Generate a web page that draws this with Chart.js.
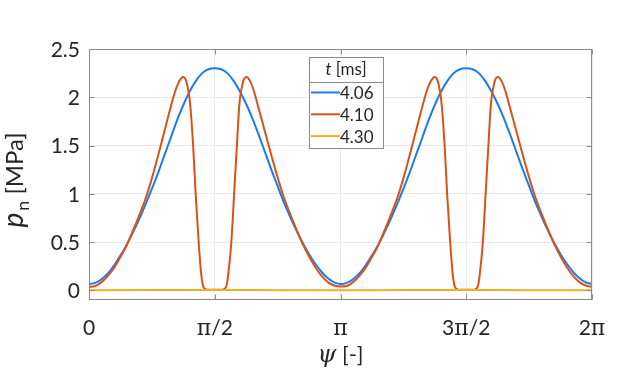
<!DOCTYPE html>
<html>
<head>
<meta charset="utf-8">
<script src="https://cdn.jsdelivr.net/npm/chart.js@4.4.1/dist/chart.umd.min.js"></script>
<style>
    html, body { margin: 0; padding: 0; background: #ffffff; }
    #wrap { width: 640px; height: 377px; }
</style>
</head>
<body>
<div id="wrap"><canvas id="pressureChart"></canvas></div>
<script>
// psi is given in units of pi (0 .. 2)
const xTicks = [0, 0.5, 1, 1.5, 2];
const xTickLabels = ['0', 'π/2', 'π', '3π/2', '2π'];
const yTicks = [0, 0.5, 1, 1.5, 2, 2.5];
const yTickLabels = ['0', '0.5', '1', '1.5', '2', '2.5'];
const seriesLabels = ['4.06', '4.10', '4.30'];

// t = 4.06 ms
const psiA = [0, 0.025, 0.05, 0.075, 0.10, 0.125, 0.15, 0.175, 0.20, 0.225, 0.25, 0.275, 0.30, 0.325, 0.35, 0.375, 0.40, 0.425, 0.45, 0.475,
    0.50, 0.525, 0.55, 0.575, 0.60, 0.625, 0.65, 0.675, 0.70, 0.725, 0.75, 0.775, 0.80, 0.825, 0.85, 0.875, 0.90, 0.925, 0.95, 0.975,
    1.00, 1.025, 1.05, 1.075, 1.10, 1.125, 1.15, 1.175, 1.20, 1.225, 1.25, 1.275, 1.30, 1.325, 1.35, 1.375, 1.40, 1.425, 1.45, 1.475,
    1.50, 1.525, 1.55, 1.575, 1.60, 1.625, 1.65, 1.675, 1.70, 1.725, 1.75, 1.775, 1.80, 1.825, 1.85, 1.875, 1.90, 1.925, 1.95, 1.975, 2.00];
const pA = [0.065, 0.078, 0.115, 0.175, 0.26, 0.36, 0.47, 0.60, 0.74, 0.89, 1.05, 1.22, 1.40, 1.58, 1.76, 1.92, 2.06, 2.17, 2.25, 2.29,
    2.30, 2.29, 2.25, 2.17, 2.06, 1.93, 1.78, 1.61, 1.43, 1.25, 1.08, 0.91, 0.76, 0.62, 0.49, 0.375, 0.275, 0.19, 0.125, 0.083,
    0.065, 0.078, 0.115, 0.175, 0.26, 0.36, 0.47, 0.60, 0.74, 0.89, 1.05, 1.22, 1.40, 1.58, 1.76, 1.92, 2.06, 2.17, 2.25, 2.29,
    2.30, 2.29, 2.25, 2.17, 2.06, 1.93, 1.78, 1.61, 1.43, 1.25, 1.08, 0.91, 0.76, 0.62, 0.49, 0.375, 0.275, 0.19, 0.125, 0.083, 0.065];

// t = 4.10 ms
const psiB = [0, 0.025, 0.05, 0.075, 0.10, 0.125, 0.15, 0.175, 0.20, 0.225, 0.25, 0.275, 0.30, 0.325, 0.345, 0.36, 0.374, 0.385, 0.395, 0.40,
    0.407, 0.414, 0.424, 0.436, 0.445, 0.453, 0.462, 0.475, 0.50, 0.525, 0.538, 0.547, 0.553, 0.566, 0.577, 0.588, 0.594, 0.60, 0.606,
    0.615, 0.626, 0.64, 0.655, 0.675, 0.70, 0.725, 0.75, 0.775, 0.80, 0.825, 0.85, 0.875, 0.90, 0.925, 0.95, 0.975,
    1.00, 1.025, 1.05, 1.075, 1.10, 1.125, 1.15, 1.175, 1.20, 1.225, 1.25, 1.275, 1.30, 1.325, 1.345, 1.36, 1.374, 1.385, 1.395, 1.40,
    1.407, 1.414, 1.424, 1.436, 1.445, 1.453, 1.462, 1.475, 1.50, 1.525, 1.538, 1.547, 1.553, 1.566, 1.577, 1.588, 1.594, 1.60, 1.606,
    1.615, 1.626, 1.64, 1.655, 1.675, 1.70, 1.725, 1.75, 1.775, 1.80, 1.825, 1.85, 1.875, 1.90, 1.925, 1.95, 1.975, 2.00];
const pB = [0.035, 0.045, 0.085, 0.15, 0.235, 0.345, 0.47, 0.62, 0.78, 0.95, 1.16, 1.40, 1.65, 1.90, 2.08, 2.17, 2.21, 2.18, 2.07, 1.98,
    1.78, 1.50, 1.00, 0.50, 0.20, 0.05, 0.015, 0.005, 0.005, 0.005, 0.015, 0.05, 0.15, 0.50, 1.00, 1.50, 1.78, 1.98, 2.08,
    2.18, 2.21, 2.17, 2.07, 1.88, 1.64, 1.40, 1.17, 0.96, 0.79, 0.63, 0.48, 0.35, 0.24, 0.15, 0.085, 0.05,
    0.04, 0.045, 0.085, 0.15, 0.235, 0.345, 0.47, 0.62, 0.78, 0.95, 1.16, 1.40, 1.65, 1.90, 2.08, 2.17, 2.21, 2.18, 2.07, 1.98,
    1.78, 1.50, 1.00, 0.50, 0.20, 0.05, 0.015, 0.005, 0.005, 0.005, 0.015, 0.05, 0.15, 0.50, 1.00, 1.50, 1.78, 1.98, 2.08,
    2.18, 2.21, 2.17, 2.07, 1.88, 1.64, 1.40, 1.17, 0.96, 0.79, 0.63, 0.48, 0.35, 0.24, 0.15, 0.085, 0.05, 0.035];

// t = 4.30 ms
const psiC = [0, 0.25, 0.5, 0.75, 1, 1.25, 1.5, 1.75, 2];
const pC = [0.002, 0.003, 0.004, 0.002, 0.001, 0.003, 0.004, 0.002, 0.002];

const colors = ['#1a7cf2', '#d95319', '#edb120'];
const textColor = '#262626';
const axisColor = '#8c8c8c';
const sans = 'Lato';

function toPoints(xs, ys) {
    return xs.map((x, i) => ({ x: x, y: ys[i] }));
}

// draw a string where the pi sign uses a serif face
function drawMixed(ctx, text, cx, baseY, size) {
    const parts = text.split(/(π)/).filter(s => s.length);
    const fonts = parts.map(s => s === 'π' ? (size + 1) + 'px "DejaVu Serif"' : size + 'px ' + sans);
    let total = 0;
    const widths = parts.map((s, i) => { ctx.font = fonts[i]; const w = ctx.measureText(s).width; total += w; return w; });
    let x = cx - total / 2;
    ctx.textAlign = 'left';
    ctx.textBaseline = 'alphabetic';
    parts.forEach((s, i) => { ctx.font = fonts[i]; ctx.fillText(s, x, baseY); x += widths[i]; });
}

const decorations = {
    id: 'decorations',
    afterDraw(chart) {
        const ctx = chart.ctx;
        const a = chart.chartArea;
        const xs = chart.scales.x, ys = chart.scales.y;
        const L = Math.round(a.left) + 0.5, R = Math.round(a.right) - 0.5;
        const T = Math.round(a.top) + 0.5, B = Math.round(a.bottom) - 0.5;
        ctx.save();

        // box and inward ticks
        ctx.strokeStyle = axisColor;
        ctx.lineWidth = 1;
        ctx.strokeRect(L, T, R - L, B - T);
        ctx.beginPath();
        xTicks.forEach(v => {
            const px = Math.round(xs.getPixelForValue(v)) + 0.5;
            ctx.moveTo(px, B); ctx.lineTo(px, B - 5);
            ctx.moveTo(px, T); ctx.lineTo(px, T + 5);
        });
        yTicks.forEach(v => {
            const py = Math.round(ys.getPixelForValue(v)) + 0.5;
            ctx.moveTo(L, py); ctx.lineTo(L + 5, py);
            ctx.moveTo(R, py); ctx.lineTo(R - 5, py);
        });
        ctx.stroke();

        // tick labels
        ctx.fillStyle = textColor;
        xTicks.forEach((v, i) => drawMixed(ctx, xTickLabels[i], xs.getPixelForValue(v), 335, 21));
        ctx.font = '21px ' + sans;
        ctx.textAlign = 'right';
        ctx.textBaseline = 'middle';
        yTicks.forEach((v, i) => ctx.fillText(yTickLabels[i], a.left - 9, ys.getPixelForValue(v) + 1));

        // x title: psi [-]
        ctx.textBaseline = 'alphabetic';
        ctx.textAlign = 'left';
        ctx.font = 'italic 24px "DejaVu Serif"';
        const wPsi = ctx.measureText('ψ').width;
        ctx.font = '22px ' + sans;
        const wRest = ctx.measureText(' [-]').width;
        let tx = (a.left + a.right) / 2 - (wPsi + wRest) / 2;
        ctx.font = 'italic 24px "DejaVu Serif"';
        ctx.fillText('ψ', tx, 362);
        ctx.font = '22px ' + sans;
        ctx.fillText(' [-]', tx + wPsi, 362);

        // y title: p_n [MPa], rotated
        ctx.save();
        ctx.translate(23, 0);
        ctx.rotate(-Math.PI / 2);
        ctx.font = 'italic 28px ' + sans;
        const wp = ctx.measureText('p').width;
        ctx.font = '18px ' + sans;
        const wn = ctx.measureText('n').width;
        ctx.font = '24px ' + sans;
        const wm = ctx.measureText(' [MPa]').width;
        let ty = -181 - (wp + wn + wm) / 2;
        ctx.font = 'italic 28px ' + sans;
        ctx.fillText('p', ty, 0);
        ctx.font = '18px ' + sans;
        ctx.fillText('n', ty + wp + 2, 6);
        ctx.font = '24px ' + sans;
        ctx.fillText(' [MPa]', ty + wp + wn + 2, 0);
        ctx.restore();

        // legend box with title
        const lx = 309, ly = 57, lw = 74, lh = 91;
        ctx.fillStyle = '#ffffff';
        ctx.fillRect(lx, ly, lw, lh);
        ctx.strokeStyle = axisColor;
        ctx.strokeRect(lx + 0.5, ly + 0.5, lw, lh);
        ctx.beginPath();
        ctx.moveTo(lx, ly + 25.5); ctx.lineTo(lx + lw, ly + 25.5);
        ctx.stroke();
        ctx.fillStyle = textColor;
        ctx.font = 'italic 17px ' + sans;
        const wt = ctx.measureText('t').width;
        ctx.font = '17px ' + sans;
        const wms = ctx.measureText(' [ms]').width;
        const t0 = lx + lw / 2 - (wt + wms) / 2;
        ctx.textBaseline = 'middle';
        ctx.font = 'italic 17px ' + sans;
        ctx.fillText('t', t0, ly + 13);
        ctx.font = '17px ' + sans;
        ctx.fillText(' [ms]', t0 + wt, ly + 13);
        chart.data.datasets.forEach((ds, i) => {
            const yy = 92.5 + i * 21.8;
            ctx.strokeStyle = ds.borderColor;
            ctx.lineWidth = 2;
            ctx.beginPath();
            ctx.moveTo(lx + 2, yy); ctx.lineTo(lx + 31, yy);
            ctx.stroke();
            ctx.fillStyle = textColor;
            ctx.font = '17px ' + sans;
            ctx.fillText(ds.label, lx + 31, yy + 1);
        });
        ctx.restore();
    }
};

const ctx = document.getElementById('pressureChart');
new Chart(ctx, {
    type: 'line',
    data: {
        datasets: [
            { label: seriesLabels[0], data: toPoints(psiA, pA), borderColor: colors[0], order: 3 },
            { label: seriesLabels[1], data: toPoints(psiB, pB), borderColor: colors[1], order: 2 },
            { label: seriesLabels[2], data: toPoints(psiC, pC), borderColor: colors[2], order: 1 }
        ]
    },
    options: {
        responsive: true,
        maintainAspectRatio: false,
        animation: false,
        datasets: {
            line: { borderWidth: 2, pointRadius: 0, fill: false, cubicInterpolationMode: 'monotone' }
        },
        layout: { padding: { left: 89, right: 48, top: 49, bottom: 77 } },
        plugins: {
            legend: { display: false },
            tooltip: { enabled: false }
        },
        scales: {
            x: {
                type: 'linear',
                min: 0,
                max: 2,
                afterBuildTicks: s => { s.ticks = xTicks.map(v => ({ value: v })); },
                ticks: { display: false },
                grid: { color: '#e9e9e9', drawTicks: false },
                border: { display: false }
            },
            y: {
                min: -0.1,
                max: 2.5,
                afterBuildTicks: s => { s.ticks = yTicks.map(v => ({ value: v })); },
                ticks: { display: false },
                grid: { color: '#e9e9e9', drawTicks: false },
                border: { display: false }
            }
        }
    },
    plugins: [decorations]
});
</script>
</body>
</html>
